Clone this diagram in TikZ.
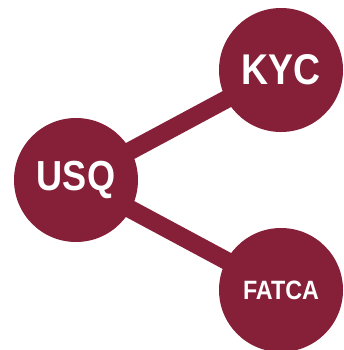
\documentclass[tikz,border=0pt]{standalone}
\usepackage{fontspec}
\setmainfont{Liberation Sans}
\usepackage{graphicx}
\usetikzlibrary{backgrounds}
\definecolor{usqred}{RGB}{134,32,57}

\begin{document}
\begin{tikzpicture}[x=1pt, y=-1pt]
			\useasboundingbox (0,0) rectangle (344,350);
			\tikzstyle{every node}=[circle, fill=usqred, text=white, minimum size=124pt, inner sep=0pt, font=\bfseries]
				\node (usq) at (76, 180) {\fontsize{42}{42}\selectfont\scalebox{0.86}[1]{USQ}};
				\node (kyc) at (281, 70) {\fontsize{43}{43}\selectfont\scalebox{0.87}[1]{KYC}};
				\node (fatca) at (281, 290) {\fontsize{26.5}{26.5}\selectfont\scalebox{0.88}[1]{FATCA}};

			\begin{scope}[on background layer]
				\draw[usqred, line width=18pt]  (usq.center) to (kyc.center);
				\draw[usqred, line width=18pt]  (usq.center) to (fatca.center);
			\end{scope}
		\end{tikzpicture}
\end{document}
